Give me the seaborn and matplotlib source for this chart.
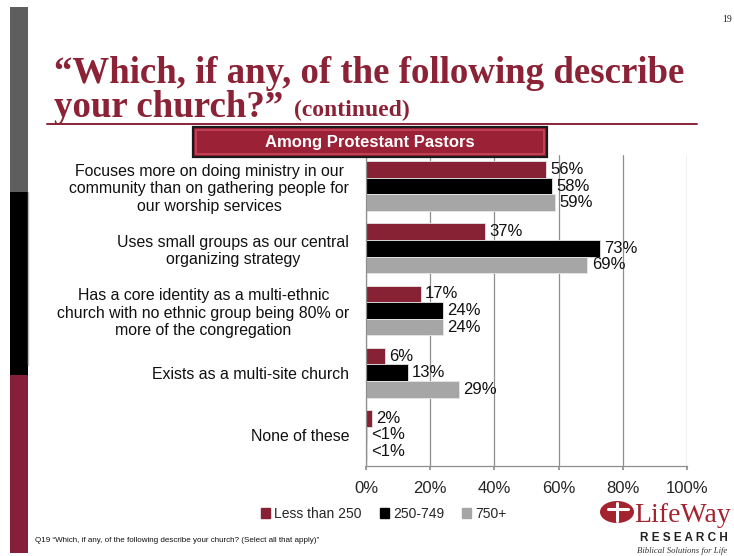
import matplotlib
matplotlib.use("Agg")
import matplotlib.pyplot as plt
from matplotlib.patches import Rectangle, Ellipse
from matplotlib.lines import Line2D
import seaborn as sns
import pandas as pd

# ---- data -------------------------------------------------------------
categories = [
    "Focuses more on doing ministry in our\ncommunity than on gathering people for\nour worship services",
    "Uses small groups as our central\norganizing strategy",
    "Has a core identity as a multi-ethnic\nchurch with no ethnic group being 80% or\nmore of the congregation",
    "Exists as a multi-site church",
    "None of these",
]
groups = ["Less than 250", "250-749", "750+"]
less_than_250 = [56, 37, 17, 6, 2]
from_250_to_749 = [58, 73, 24, 13, 0.4]
over_750 = [59, 69, 24, 29, 0.4]
x_ticks = [0, 20, 40, 60, 80, 100]

colors = ["#862234", "#000000", "#A6A6A6"]
RED = "#8B2236"

sns.set_theme(style="white")
plt.rcParams["font.family"] = ["Liberation Sans", "DejaVu Sans"]

rows = []
for g, vals in zip(groups, [less_than_250, from_250_to_749, over_750]):
    for c, v in zip(categories, vals):
        rows.append({"category": c, "group": g, "value": v})
df = pd.DataFrame(rows)

W, H = 734, 556
fig = plt.figure(figsize=(W / 100, H / 100), dpi=100)
fig.patch.set_facecolor("white")


def fx(px):
    return px / W


def fy(py):
    return 1 - py / H


ax = fig.add_axes([fx(366), fy(466), fx(687) - fx(366), fy(155) - fy(466)])
sns.barplot(data=df, x="value", y="category", hue="group", hue_order=groups,
            palette=colors, orient="h", width=0.8, ax=ax, legend=False,
            edgecolor="#e6e6e6", linewidth=0.6, saturation=1)

# value labels
for cont, vals in zip(ax.containers, [less_than_250, from_250_to_749, over_750]):
    labels = ["<1%" if v < 1 else f"{v:g}%" for v in vals]
    ax.bar_label(cont, labels=labels, padding=3, fontsize=12, color="#111111")

ax.set_xlim(0, 100)
ax.set_xticks(x_ticks)
ax.set_xticklabels([f"{t}%" for t in x_ticks], fontsize=12)
ax.set_xlabel("")
ax.set_ylabel("")
ax.xaxis.grid(True, color="#8f8f8f", linewidth=0.9)
ax.set_axisbelow(True)
for s in ["top", "right"]:
    ax.spines[s].set_visible(False)
for s in ["left", "bottom"]:
    ax.spines[s].set_color("#8f8f8f")
    ax.spines[s].set_linewidth(0.9)
ax.tick_params(axis="x", length=3, color="#8f8f8f", pad=8, bottom=True)
ax.tick_params(axis="y", length=0, pad=12, labelsize=11.4)
for lab in ax.get_yticklabels():
    lab.set_multialignment("center")
    lab.set_linespacing(1.22)
    lab.set_color("#111111")

# ---- slide decoration -------------------------------------------------
# left colour strip
fig.add_artist(Rectangle((fx(10), fy(192)), fx(28) - fx(10), fy(7) - fy(192),
                         transform=fig.transFigure, color="#5E5E5E", lw=0))
fig.add_artist(Rectangle((fx(10), fy(375)), fx(28) - fx(10), fy(192) - fy(375),
                         transform=fig.transFigure, color="#000000", lw=0))
fig.add_artist(Rectangle((fx(10), fy(553)), fx(28) - fx(10), fy(375) - fy(553),
                         transform=fig.transFigure, color="#86203A", lw=0))
fig.add_artist(Line2D([fx(28.5), fx(28.5)], [fy(192), fy(365)],
                      transform=fig.transFigure, color="#bdbdbd", lw=1))

# page number
fig.text(fx(722), fy(20), "19", fontsize=7, family="Liberation Serif",
         ha="left", va="center", color="#222222")

# title
fig.text(fx(54), fy(83), "\u201cWhich, if any, of the following describe",
         fontsize=26.6, fontweight="bold", family="Liberation Serif",
         color=RED, ha="left", va="baseline")
fig.text(fx(54), fy(117), "your church?\u201d", fontsize=26.6, fontweight="bold",
         family="Liberation Serif", color=RED, ha="left", va="baseline")
fig.text(fx(294), fy(116), "(continued)", fontsize=17, fontweight="bold",
         family="Liberation Serif", color=RED, ha="left", va="baseline")
fig.add_artist(Line2D([fx(47), fx(697)], [fy(124), fy(124)],
                      transform=fig.transFigure, color=RED, lw=1.4))

# banner
fig.add_artist(Rectangle((fx(193), fy(157)), fx(547) - fx(193), fy(127) - fy(157),
                         transform=fig.transFigure, facecolor="#9B2236",
                         edgecolor="#1a1a1a", lw=1.6, zorder=5))
fig.add_artist(Rectangle((fx(196), fy(154)), fx(544) - fx(196), fy(130) - fy(154),
                         transform=fig.transFigure, facecolor="none",
                         edgecolor="#C9475C", lw=1.2, zorder=6))
fig.text(fx(370), fy(143), "Among Protestant Pastors", fontsize=12,
         fontweight="bold", color="white", ha="center", va="center", zorder=7)

# legend
handles = [Rectangle((0, 0), 1, 1, color=c) for c in colors]
fig.legend(handles, groups, loc="center", bbox_to_anchor=(fx(384), fy(514)),
           ncol=3, frameon=False, fontsize=10, handlelength=0.65,
           handleheight=0.65, handletextpad=0.3, columnspacing=1.3)

# footnote
fig.text(fx(35), fy(541),
         "Q19 \u201cWhich, if any, of the following describe your church? (Select all that apply)\u201d",
         fontsize=5.8, color="#111111", ha="left", va="center")

# logo
fig.add_artist(Ellipse((fx(617), fy(512)), fx(34), 22 / H,
                       transform=fig.transFigure, color="#A3232F", lw=0))
fig.add_artist(Line2D([fx(617), fx(617)], [fy(503), fy(521)],
                      transform=fig.transFigure, color="white", lw=2.2))
fig.add_artist(Line2D([fx(608), fx(628)], [fy(509), fy(509)],
                      transform=fig.transFigure, color="white", lw=2.2))
fig.text(fx(634), fy(522), "LifeWay", fontsize=20, family="Liberation Serif",
         color="#A3232F", ha="left", va="baseline")
fig.text(fx(640), fy(541), "R E S E A R C H", fontsize=8.5, fontweight="bold",
         color="#222222", ha="left", va="baseline")
fig.text(fx(637), fy(553), "Biblical Solutions for Life", fontsize=6.3,
         family="Liberation Serif", style="italic", color="#333333",
         ha="left", va="baseline")

fig.savefig("out.png", dpi=100, facecolor="white")
